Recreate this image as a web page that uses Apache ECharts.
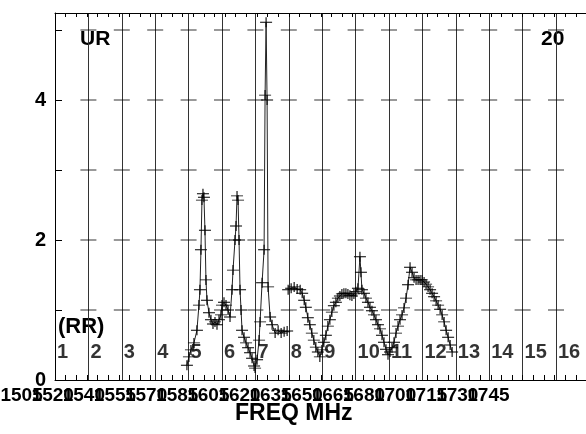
<!DOCTYPE html>
<html><head><meta charset="utf-8">
<script src="https://cdn.jsdelivr.net/npm/echarts@6/dist/echarts.min.js"></script>
<style>html,body{margin:0;padding:0;background:#fff}#c{width:586px;height:434px}</style>
</head><body><div id="c"></div>
<script>
// ---- data (x in channel units from the left frame, y in plotted units) ----
const freqLabels = ['1505','1520','1540','1555','1570','1585','1605','1620','1635','1650','1665','1680','1700','1715','1730','1745'];
const yTickLabels = ['0','','2','','4',''];
const chanLabels = ['1','2','3','4','5','6','7','8','9','10','11','12','13','14','15','16'];

const segA = [[3.95,0.21],[4.01,0.33],[4.07,0.43],[4.16,0.53],[4.25,0.71],[4.31,1.07],[4.34,1.29],[4.37,1.86],[4.40,2.57],[4.43,2.66],[4.46,2.61],[4.49,2.14],[4.52,1.43],[4.55,1.14],[4.61,0.96],[4.67,0.86],[4.73,0.80],[4.79,0.83],[4.85,0.79],[4.91,0.86],[4.97,0.93],[5.00,1.07],[5.06,1.11],[5.12,1.07],[5.18,1.00],[5.24,0.90],[5.30,1.29],[5.33,1.57],[5.39,2.00],[5.42,2.20],[5.45,2.63],[5.48,2.57],[5.51,2.00],[5.54,1.29],[5.57,1.00],[5.60,0.71],[5.66,0.61],[5.72,0.53],[5.78,0.46],[5.84,0.39],[5.90,0.31],[5.96,0.20]];
const segB = [[5.99,0.17],[6.05,0.29],[6.11,0.57],[6.14,0.83],[6.20,1.39],[6.26,1.86],[6.29,4.07],[6.32,5.11],[6.35,4.00],[6.38,1.33],[6.44,0.90],[6.50,0.79],[6.59,0.67],[6.68,0.71],[6.77,0.67],[6.86,0.69],[6.95,0.70]];
const segC = [[6.98,1.29],[7.07,1.31],[7.16,1.33],[7.25,1.30],[7.34,1.29],[7.40,1.24],[7.46,1.14],[7.51,1.04],[7.57,0.89],[7.63,0.79],[7.69,0.67],[7.75,0.57],[7.81,0.47],[7.87,0.40],[7.93,0.33],[7.99,0.43],[8.05,0.54],[8.11,0.64],[8.17,0.77],[8.23,0.86],[8.29,0.97],[8.35,1.06],[8.41,1.11],[8.47,1.17],[8.53,1.20],[8.59,1.23],[8.65,1.24],[8.71,1.24],[8.77,1.23],[8.83,1.21],[8.89,1.20],[8.95,1.23],[9.01,1.26],[9.07,1.31],[9.13,1.76],[9.16,1.54],[9.19,1.29],[9.25,1.24],[9.31,1.17],[9.37,1.11],[9.43,1.04],[9.49,0.99],[9.55,0.93],[9.61,0.86],[9.67,0.79],[9.73,0.73],[9.79,0.64],[9.85,0.54],[9.91,0.44],[9.97,0.36],[10.03,0.40],[10.09,0.46],[10.15,0.54],[10.21,0.67],[10.27,0.77],[10.33,0.86],[10.39,0.93],[10.45,1.03],[10.51,1.17],[10.57,1.36],[10.63,1.61],[10.69,1.54],[10.75,1.46],[10.81,1.43],[10.87,1.43],[10.93,1.43],[10.99,1.43],[11.05,1.40],[11.11,1.37],[11.17,1.33],[11.23,1.29],[11.29,1.24],[11.35,1.19],[11.41,1.13],[11.47,1.07],[11.53,1.01],[11.59,0.93],[11.65,0.83],[11.71,0.71],[11.77,0.61],[11.83,0.50],[11.89,0.40]];

// ---- chart ----
const FONT = '"Liberation Sans", Arial, Helvetica, sans-serif';
const W = 534.4, LABEL_PITCH = 31.12, TICK_PITCH = 10.63;
const chart = echarts.init(document.getElementById('c'), null, {renderer: 'canvas'});

const crossMarks = [];
for (let k = 1; k <= 15; k++) for (let j = 1; j <= 5; j++) crossMarks.push([k, j]);
const chanPts = chanLabels.map((t, i) => ({value: [i, 0.4], label: {formatter: t}}));

const plus = 'path://M0,5L10,5M5,0L5,10';
const lineSeries = (d) => ({
  type: 'line', xAxisIndex: 2, data: d, symbol: plus, symbolSize: [12, 10],
  itemStyle: {color: 'none', borderColor: '#000', borderWidth: 1},
  lineStyle: {color: '#222', width: 1}, showAllSymbol: true, z: 5
});
const tickAxis = (pos) => ({
  type: 'value', min: 0, max: W / TICK_PITCH, interval: 1, position: pos,
  axisLine: {show: true, onZero: false, lineStyle: {color: '#000', width: 1}},
  axisTick: {show: true, inside: true, length: pos === 'top' ? 4 : 5, lineStyle: {color: '#000'}},
  splitLine: {show: false}, axisLabel: {show: false}
});

chart.setOption({
  animation: false,
  backgroundColor: '#fff',
  grid: {left: 55, top: 13, width: W, height: 367, containLabel: false, outerBoundsMode: 'none'},
  xAxis: [
    { // frequency labels (index -1 is an empty slot at the frame's left edge)
      type: 'value', min: -1, max: W / LABEL_PITCH - 1, interval: 1, position: 'bottom',
      axisLine: {show: false, onZero: false}, axisTick: {show: false}, splitLine: {show: false},
      axisLabel: {
        show: true, margin: 6, fontSize: 19, fontWeight: 'bold', fontFamily: FONT, color: '#000',
        padding: [0, 129, 0, 0], hideOverlap: false,
        formatter: v => (Number.isInteger(v) && freqLabels[v]) ? freqLabels[v] : ''
      }
    },
    tickAxis('top'),
    { // channel axis (grid lines)
      type: 'value', min: 0, max: 16, interval: 1, position: 'bottom',
      axisLine: {show: false, onZero: false}, axisTick: {show: false}, axisLabel: {show: false},
      splitLine: {show: true, lineStyle: {color: '#333', width: 1}}
    },
    tickAxis('bottom')
  ],
  yAxis: {
    type: 'value', min: 0, max: 367 / 70, interval: 1,
    axisLine: {show: true, onZero: false, lineStyle: {color: '#000', width: 1}},
    axisTick: {show: true, inside: true, length: 7, lineStyle: {color: '#000'}},
    splitLine: {show: false},
    axisLabel: {
      show: true, margin: 9, fontSize: 20, fontWeight: 'bold', fontFamily: FONT, color: '#000',
      showMaxLabel: false,
      formatter: v => (Number.isInteger(v) && yTickLabels[v]) ? yTickLabels[v] : ''
    }
  },
  series: [
    { type: 'scatter', xAxisIndex: 2, data: crossMarks, symbol: 'rect', symbolSize: [16, 1],
      itemStyle: {color: '#000'}, silent: true, z: 1 },
    { type: 'scatter', xAxisIndex: 2, data: chanPts, symbolSize: 0, silent: true, z: 3,
      label: {show: true, position: 'right', distance: 2, fontSize: 20, fontWeight: 'bold',
              fontFamily: FONT, color: '#000'} },
    lineSeries(segA), lineSeries(segB), lineSeries(segC)
  ],
  graphic: [
    {type: 'text', left: 80, top: 29, style: {text: 'UR', font: 'bold 21px ' + FONT, fill: '#000'}},
    {type: 'text', left: 541, top: 29, style: {text: '20', font: 'bold 21px ' + FONT, fill: '#000'}},
    {type: 'text', left: 58, top: 316, style: {text: '(RR)', font: 'bold 22px ' + FONT, fill: '#000'}},
    {type: 'text', left: 235, top: 402, style: {text: 'FREQ MHz', font: 'bold 23px ' + FONT, fill: '#000'}}
  ]
});
</script></body></html>
